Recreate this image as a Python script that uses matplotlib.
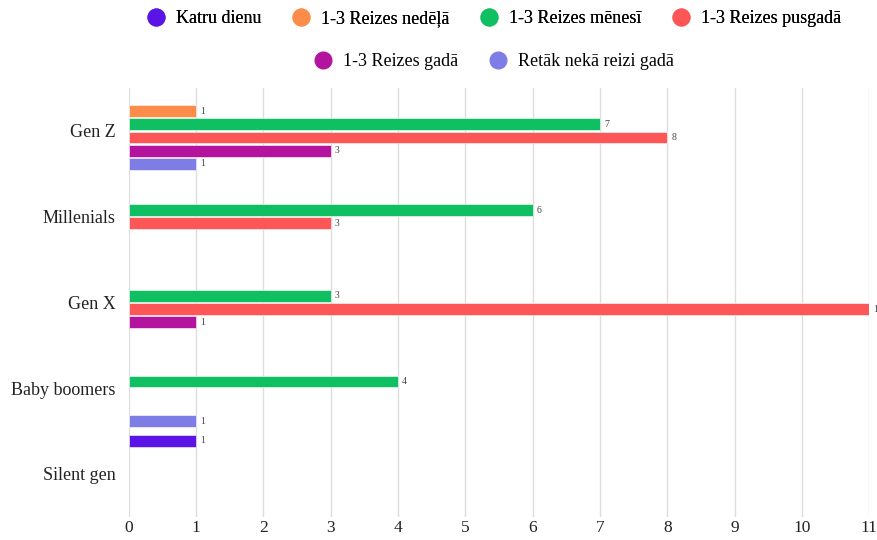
import matplotlib
matplotlib.use("Agg")
import matplotlib.pyplot as plt
from matplotlib.lines import Line2D
import numpy as np

plt.rcParams["font.family"] = ["Liberation Serif", "DejaVu Serif"]

categories = ["Gen Z", "Millenials", "Gen X", "Baby boomers", "Silent gen"]
series = ["Katru dienu", "1-3 Reizes nedēļā", "1-3 Reizes mēnesī",
          "1-3 Reizes pusgadā", "1-3 Reizes gadā", "Retāk nekā reizi gadā"]
colors = ["#5a14e6", "#fb8c4a", "#0fbf62", "#fd5656", "#b4139e", "#7e7de6"]

katru_dienu = [0, 0, 0, 0, 1]
nedela = [1, 0, 0, 0, 0]
menesi = [7, 6, 3, 4, 0]
pusgada = [8, 3, 11, 0, 0]
gada = [3, 0, 1, 0, 0]
retak = [1, 0, 0, 1, 0]
values = [katru_dienu, nedela, menesi, pusgada, gada, retak]

fig = plt.figure(figsize=(8.77, 5.4), dpi=100)
ax = fig.add_axes([0.147, 0.043, 0.844, 0.794])

y = np.arange(len(categories))
slot = 0.154
bar_h = 0.138
for i, (name, vals, c) in enumerate(zip(series, values, colors)):
    pos = y + (i - 2.5) * slot
    # skip zero bars so no stray edge shows on the axis
    keep = [k for k, v in enumerate(vals) if v > 0]
    ax.barh(pos[keep], [vals[k] for k in keep], height=bar_h, color=c,
            edgecolor="white", linewidth=0.4)
    for k in keep:
        ax.annotate(str(vals[k]), (vals[k], pos[k]), xytext=(3, 0),
                    textcoords="offset points", va="center", ha="left",
                    fontsize=7, color="#444444", annotation_clip=False)

ax.set_ylim(len(categories) - 0.5, -0.5)
ax.set_xlim(0, 11)
ax.set_xticks(range(0, 12))
ax.set_yticks(y)
ax.set_yticklabels(categories)
ax.tick_params(axis="both", length=0, labelsize=13, colors="#222222")
ax.tick_params(axis="y", pad=9.5)
ax.tick_params(axis="x", pad=2, labelsize=12.5)
ax.grid(axis="x", color="#dddddd", linewidth=1)
ax.set_axisbelow(True)
for s in ax.spines.values():
    s.set_visible(False)

def handles(idx):
    return [Line2D([], [], linestyle="none", marker="o", markersize=12,
                   markerfacecolor=colors[k], markeredgecolor=colors[k],
                   label=series[k]) for k in idx]

leg1 = fig.legend(handles=handles([0, 1, 2, 3]), loc="center", ncol=4,
                  bbox_to_anchor=(0.563, 0.966), frameon=False, fontsize=13,
                  handlelength=1, handletextpad=0.6, columnspacing=1.7)
leg2 = fig.legend(handles=handles([4, 5]), loc="center", ncol=2,
                  bbox_to_anchor=(0.563, 0.886), frameon=False, fontsize=13,
                  handlelength=1, handletextpad=0.6, columnspacing=1.7)
fig.add_artist(leg1)

fig.savefig("out.png")
